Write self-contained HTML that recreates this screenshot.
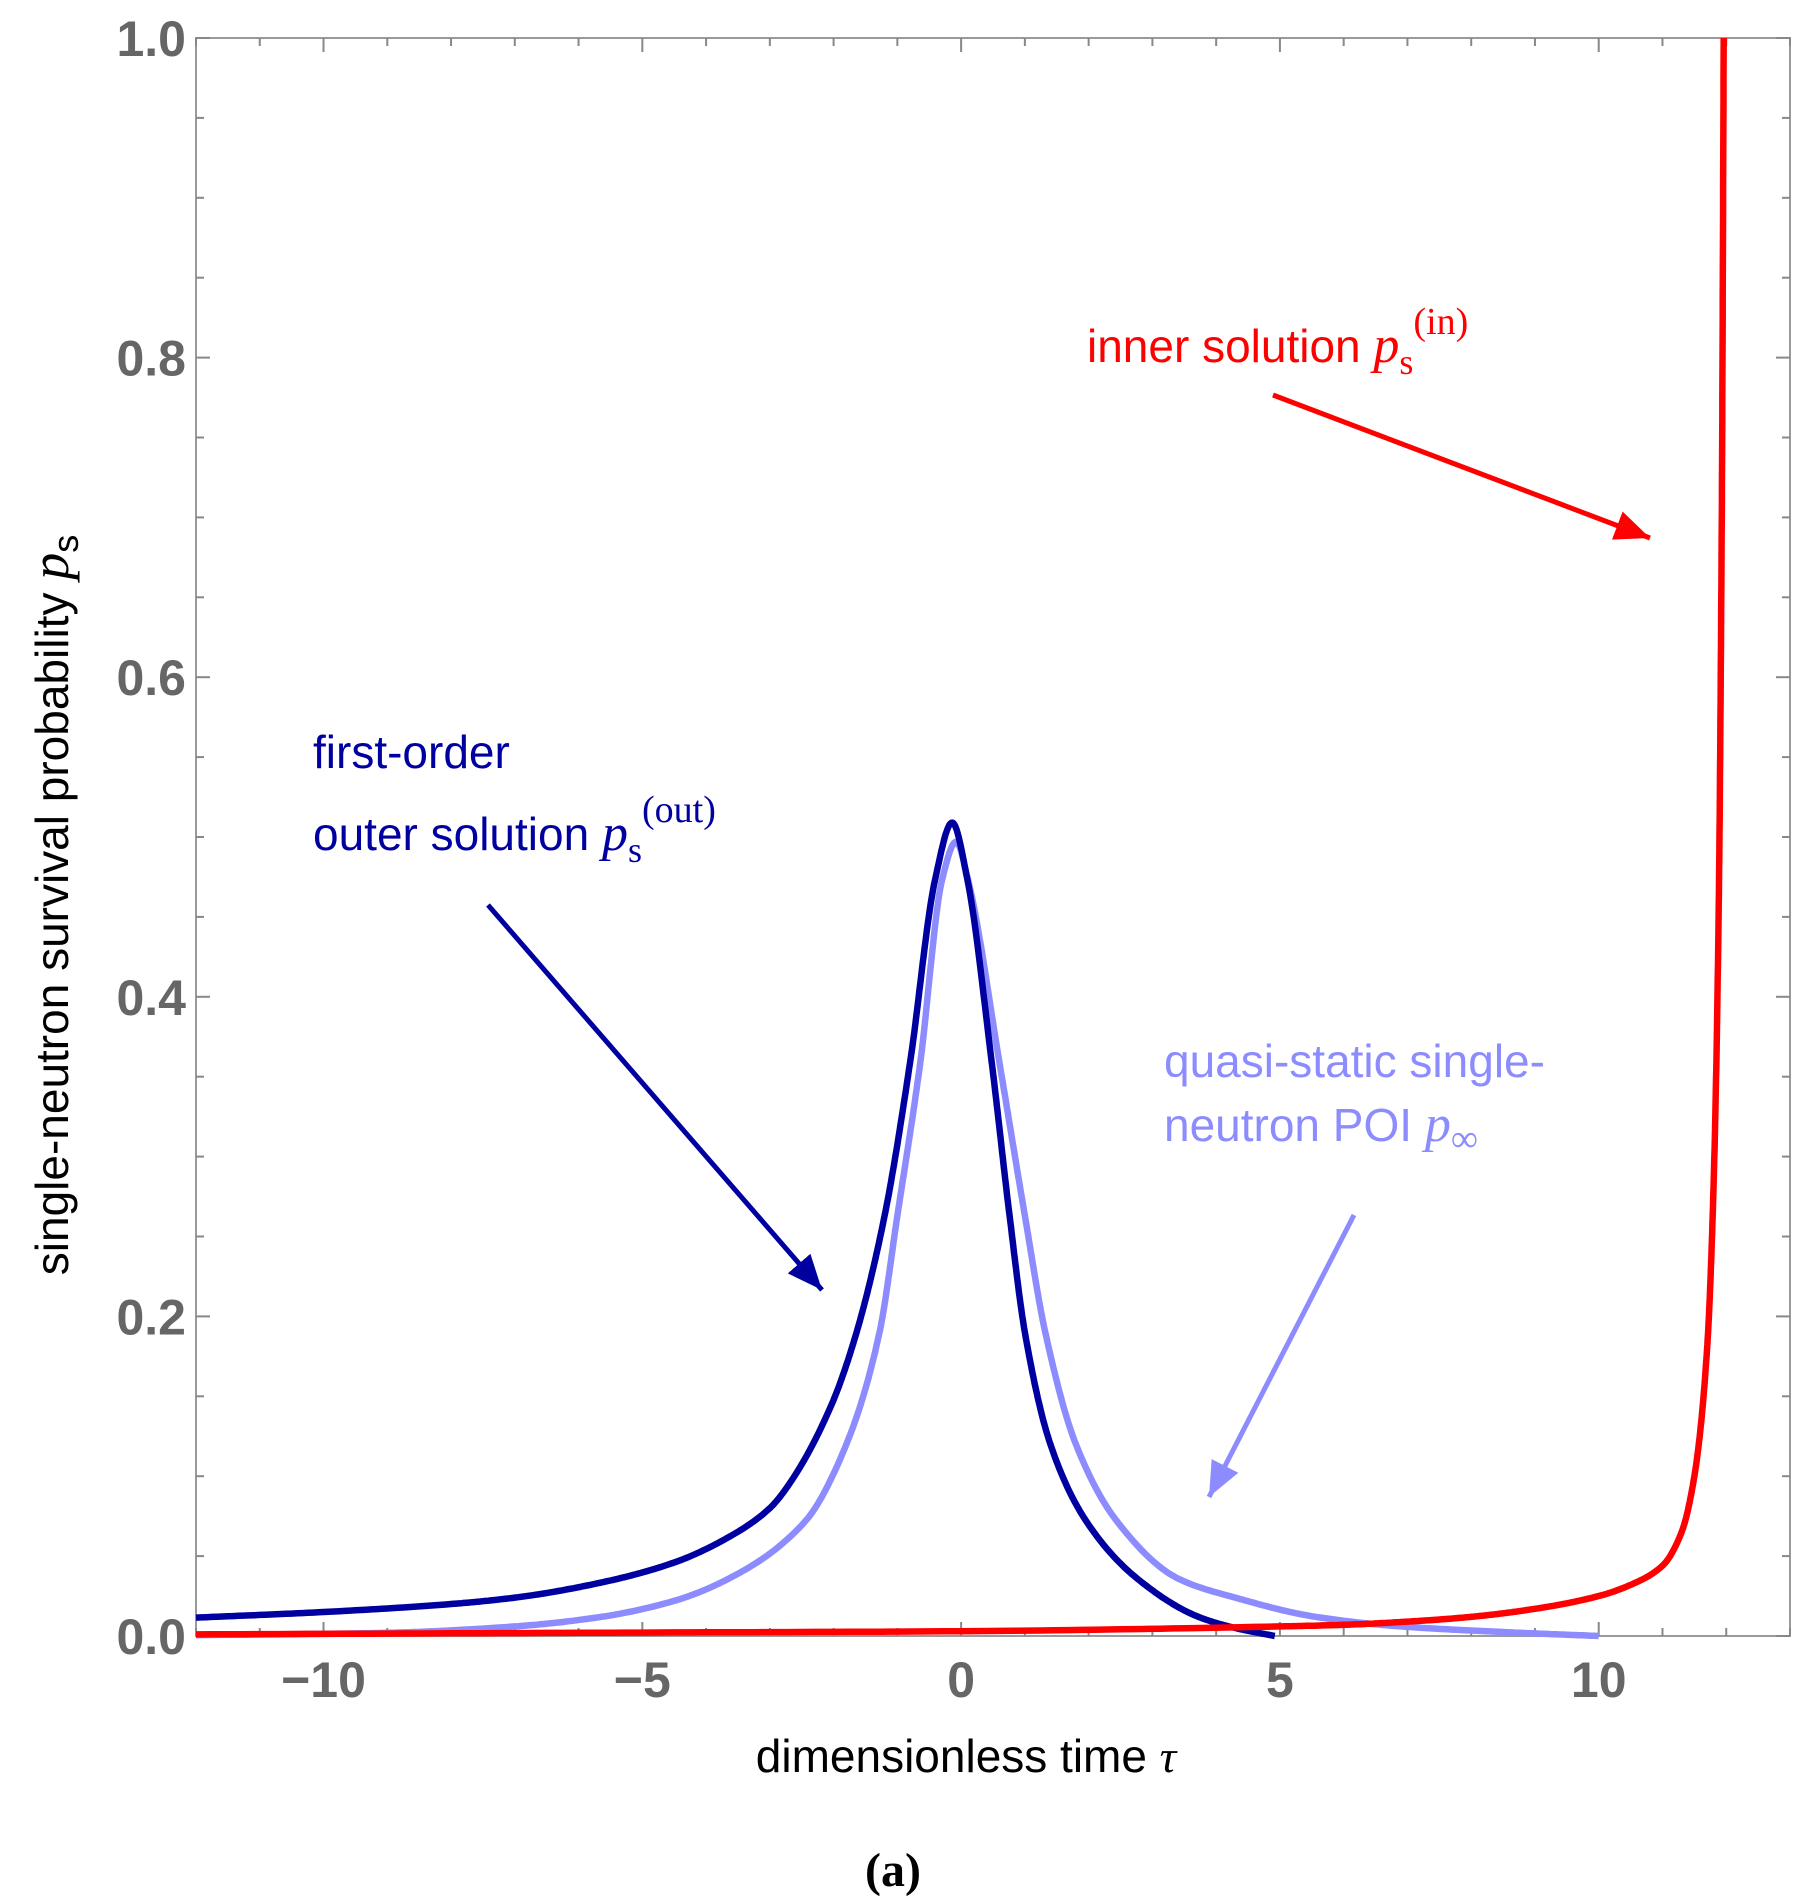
<!DOCTYPE html>
<html><head><meta charset="utf-8">
<style>
html,body{margin:0;padding:0;background:#fff;}
svg{display:block;}
.tick{font-family:"Liberation Sans",sans-serif;font-weight:bold;font-size:50px;fill:#666;}
.lbl{font-family:"Liberation Sans",sans-serif;font-size:46px;}
.it{font-family:"Liberation Serif",serif;font-style:italic;}
</style></head>
<body>
<svg id="chart" width="1805" height="1904" viewBox="0 0 1805 1904" xmlns="http://www.w3.org/2000/svg">
<defs>
<marker id="ar" markerWidth="8" markerHeight="8" refX="7" refY="4" orient="auto" markerUnits="strokeWidth"><path d="M0,1 L7,4 L0,7 z" fill="red"/></marker>
<marker id="ab" markerWidth="8" markerHeight="8" refX="7" refY="4" orient="auto" markerUnits="strokeWidth"><path d="M0,1 L7,4 L0,7 z" fill="#0000a0"/></marker>
<marker id="al" markerWidth="8" markerHeight="8" refX="7" refY="4" orient="auto" markerUnits="strokeWidth"><path d="M0,1 L7,4 L0,7 z" fill="#8c8cff"/></marker>
</defs>
<g id="axes"></g>
<g id="series"></g>
<g>
<text class="lbl" x="1087" y="362" fill="red" font-size="46">inner solution <tspan class="it" font-size="52">p</tspan><tspan font-family="Liberation Serif" font-size="36" dy="12">s</tspan><tspan font-family="Liberation Serif" font-size="38" dy="-40">(in)</tspan></text>
<line x1="1273" y1="395" x2="1650" y2="538" stroke="red" stroke-width="5" marker-end="url(#ar)"/>
<text class="lbl" x="313" y="768" fill="#0000a0" font-size="46">first-order</text>
<text class="lbl" x="313" y="850" fill="#0000a0" font-size="46">outer solution <tspan class="it" font-size="52">p</tspan><tspan font-family="Liberation Serif" font-size="36" dy="12">s</tspan><tspan font-family="Liberation Serif" font-size="38" dy="-40">(out)</tspan></text>
<line x1="488" y1="905" x2="822" y2="1290" stroke="#0000a0" stroke-width="5" marker-end="url(#ab)"/>
<text class="lbl" x="1164" y="1077" fill="#8c8cff" font-size="46">quasi-static single-</text>
<text class="lbl" x="1164" y="1141" fill="#8c8cff" font-size="46">neutron POI <tspan class="it" font-size="52">p</tspan><tspan font-family="Liberation Serif" font-size="38" dy="10">∞</tspan></text>
<line x1="1354" y1="1215" x2="1209" y2="1497" stroke="#8c8cff" stroke-width="5" marker-end="url(#al)"/>
<text class="lbl" x="966" y="1772" text-anchor="middle" font-size="52" fill="#000">dimensionless  time <tspan class="it">τ</tspan></text>
<text class="lbl" transform="translate(68,905) rotate(-90)" text-anchor="middle" font-size="47" fill="#000">single-neutron survival probability <tspan class="it" font-size="54">p</tspan><tspan font-size="36" dy="10">s</tspan></text>
<text x="893" y="1886" text-anchor="middle" font-family="Liberation Serif,serif" font-weight="bold" font-size="48" fill="#000">(a)</text>
</g>
</svg>
<script>
const xTicks=[-10,-5,0,5,10];
const yTicks=[0,0.2,0.4,0.6,0.8,1.0];
const yTickLabels=["0.0","0.2","0.4","0.6","0.8","1.0"];
const outerTau=[-12,-10,-8,-7,-5.64,-4.5,-3.64,-3,-2.68,-2.04,-1.64,-1.2,-0.8,-0.41,-0.14,0.1,0.48,0.76,1.0,1.4,1.96,2.76,3.72,4.3,4.92];
const outerP=[0.0115,0.015,0.02,0.024,0.0335,0.046,0.062,0.08,0.096,0.144,0.19,0.263,0.359,0.473,0.509,0.473,0.359,0.263,0.19,0.12,0.072,0.036,0.012,0.005,0.0];
const quasiTau=[-12,-9,-7,-5.64,-4.5,-3.64,-2.44,-1.8,-1.28,-1.0,-0.64,-0.3,-0.08,0.11,0.6,1.0,1.32,1.8,2.44,3.4,4.3,5.56,6.9,8.5,10];
const quasiP=[0.0005,0.002,0.006,0.012,0.022,0.036,0.072,0.12,0.19,0.263,0.359,0.473,0.497,0.473,0.359,0.263,0.19,0.12,0.072,0.036,0.024,0.012,0.006,0.0025,0.0];
const innerTau=[-12,-6,0,5,6,7,8,9,10,10.5,11,11.3,11.5,11.7,11.8,11.88,11.93,11.96];
const innerP=[0.001,0.002,0.003,0.006,0.007,0.009,0.012,0.017,0.025,0.032,0.044,0.065,0.1,0.18,0.28,0.45,0.7,1.0];

const X0=196,X1=1790,Y0=1636,Y1=38,XMIN=-12,XMAX=13;
const sx=v=>X0+(v-XMIN)/(XMAX-XMIN)*(X1-X0);
const sy=v=>Y0-v*(Y0-Y1);
const NS="http://www.w3.org/2000/svg";
function mk(tag,attrs,parent){const e=document.createElementNS(NS,tag);for(const k in attrs)e.setAttribute(k,attrs[k]);parent.appendChild(e);return e;}
const axes=document.getElementById('axes');
const frame=mk('rect',{x:X0,y:Y1,width:X1-X0,height:Y0-Y1,fill:'none',stroke:'#9a9a9a','stroke-width':2},axes);


for(let t=-12;t<=13;t++){
  const major=(t%5===0);const L=major?14:8;
  mk('line',{x1:sx(t),x2:sx(t),y1:Y0,y2:Y0-L,stroke:'#888','stroke-width':2},axes);
  mk('line',{x1:sx(t),x2:sx(t),y1:Y1,y2:Y1+L,stroke:'#888','stroke-width':2},axes);
}
for(let i=0;i<=20;i++){
  const v=i*0.05;const major=(i%4===0);const L=major?14:8;
  mk('line',{x1:X0,x2:X0+L,y1:sy(v),y2:sy(v),stroke:'#888','stroke-width':2},axes);
  mk('line',{x1:X1,x2:X1-L,y1:sy(v),y2:sy(v),stroke:'#888','stroke-width':2},axes);
}
xTicks.forEach(t=>{
  const e=mk('text',{x:sx(t),y:1697,'text-anchor':'middle',class:'tick'},axes);
  e.textContent=(t<0?'\u2212'+(-t):String(t));
  
  
});
yTicks.forEach((v,i)=>{
  const e=mk('text',{x:186,y:sy(v)+18,'text-anchor':'end',class:'tick'},axes);
  e.textContent=yTickLabels[i];
  
  
});
function pathFor(xs,ys){
  const n=xs.length,d=[],m=new Array(n);
  for(let i=0;i<n-1;i++)d.push((ys[i+1]-ys[i])/(xs[i+1]-xs[i]));
  m[0]=d[0];m[n-1]=d[n-2];
  for(let i=1;i<n-1;i++){
    if(d[i-1]*d[i]<=0)m[i]=0;
    else{const h0=xs[i]-xs[i-1],h1=xs[i+1]-xs[i];const w1=2*h1+h0,w2=h1+2*h0;m[i]=(w1+w2)/(w1/d[i-1]+w2/d[i]);}
  }
  let s='M'+sx(xs[0]).toFixed(1)+','+sy(ys[0]).toFixed(1);
  for(let i=0;i<n-1;i++){
    const h=xs[i+1]-xs[i];
    for(let k=1;k<=24;k++){
      const t=k/24,t2=t*t,t3=t2*t;
      const y=(2*t3-3*t2+1)*ys[i]+(t3-2*t2+t)*h*m[i]+(-2*t3+3*t2)*ys[i+1]+(t3-t2)*h*m[i+1];
      s+=' L'+sx(xs[i]+t*h).toFixed(1)+','+sy(y).toFixed(1);
    }
  }
  return s;
}
const ser=document.getElementById('series');
const q=mk('path',{d:pathFor(quasiTau,quasiP),fill:'none',stroke:'#8c8cff','stroke-width':6.5,'stroke-linejoin':'round'},ser);


const o=mk('path',{d:pathFor(outerTau,outerP),fill:'none',stroke:'#0000a0','stroke-width':6.5,'stroke-linejoin':'round'},ser);


const r=mk('path',{d:pathFor(innerTau,innerP),fill:'none',stroke:'#ff0000','stroke-width':6.5,'stroke-linejoin':'round'},ser);


</script>
</body></html>
